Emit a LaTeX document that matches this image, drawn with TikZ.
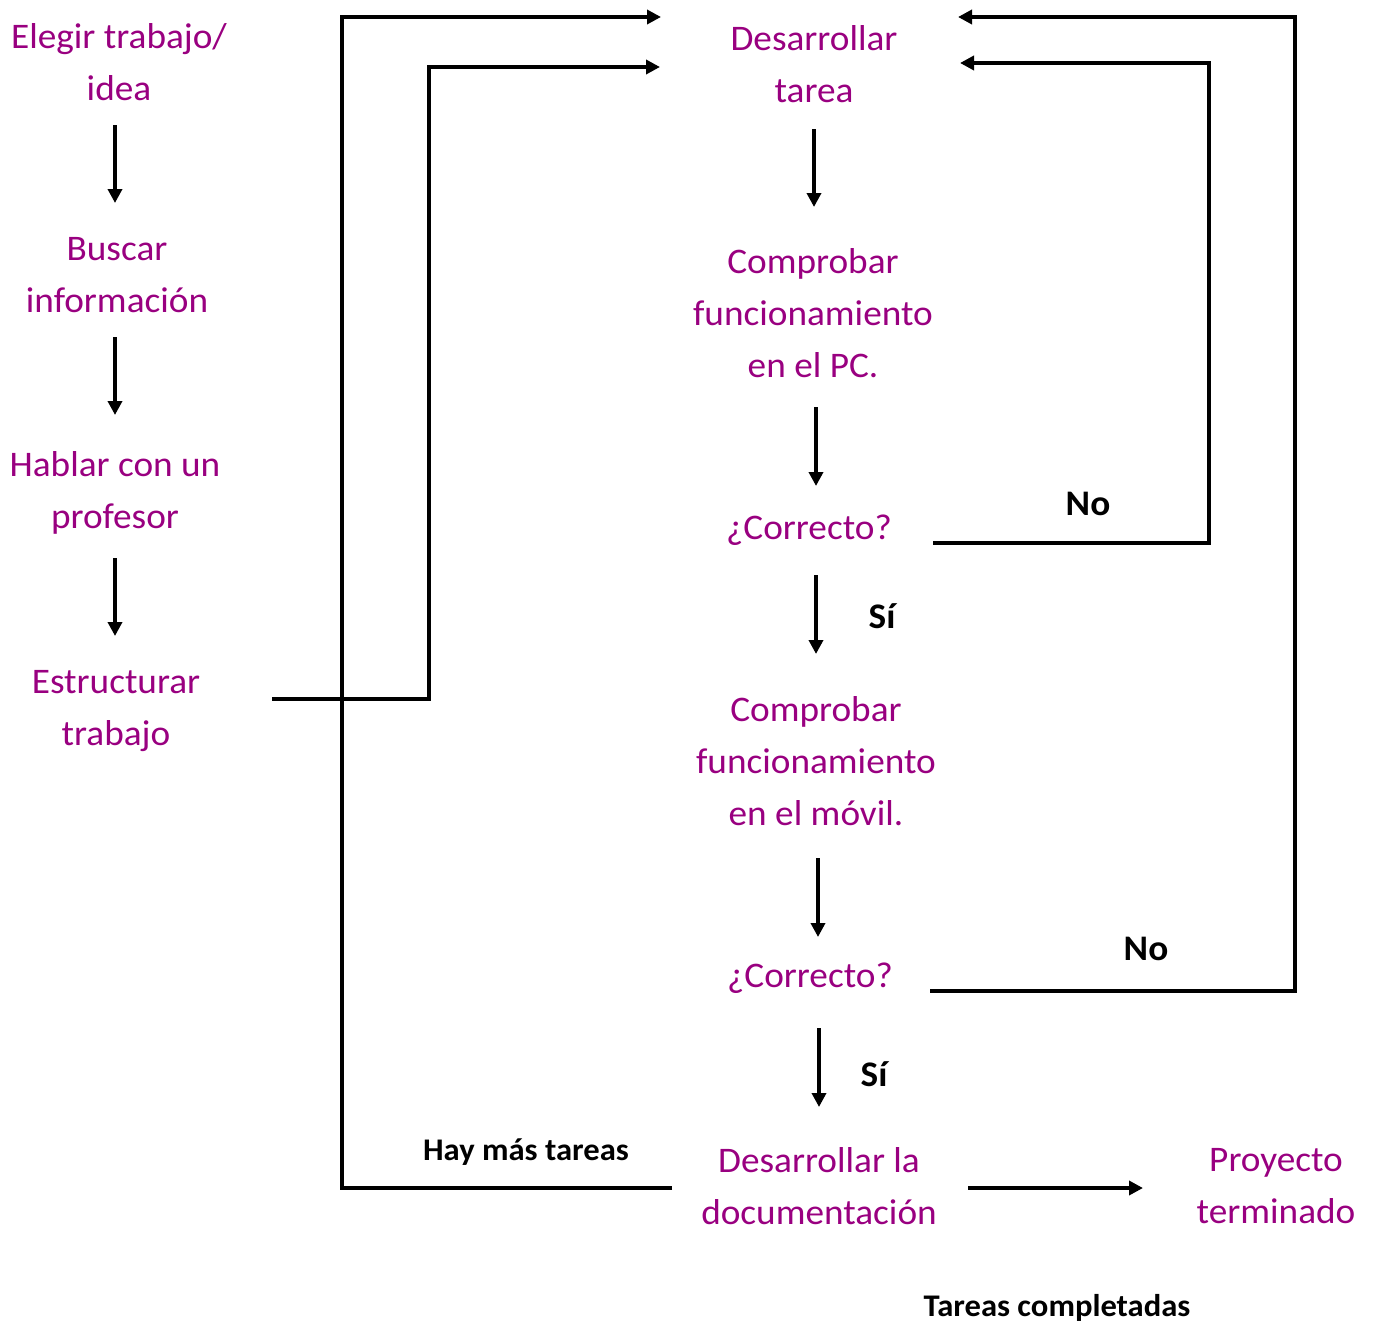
\documentclass[tikz,border=0pt]{standalone}
\usepackage{fontspec}
\setmainfont{Carlito}[FakeStretch=1.035]
\usetikzlibrary{arrows.meta}
\definecolor{txtpurple}{HTML}{990080}
\tikzset{
  box/.style={inner sep=0pt, align=center, text=txtpurple, font=\fontsize{36}{52}\selectfont},
  lbl/.style={inner sep=0pt, anchor=base, text=black, font=\fontsize{36}{43}\selectfont\bfseries},
  slbl/.style={inner sep=0pt, anchor=base, text=black, font=\fontsize{31.5}{38}\selectfont\bfseries},
  arr/.style={line width=4pt, -{Triangle[length=14pt,width=14pt]}},
  ln/.style={line width=4pt, line join=miter},
}
\begin{document}
\begin{tikzpicture}[x=1pt,y=-1pt]
\useasboundingbox (0,0) rectangle (1373,1322);
% left column
\node[box] (e1) at (119,62) {Elegir trabajo/\\idea};
\node[box] (e2) at (117,275) {Buscar\\información};
\node[box] (e3) at (115,493) {Hablar con un\\profesor};
\node[box] (e4) at (116,711) {Estructurar\\trabajo};
% center column
\node[box] (c1) at (814,64.5) {Desarrollar\\tarea};
\node[box] (c2) at (813,313) {Comprobar\\funcionamiento\\en el PC.};
\node[box, anchor=base] (c3) at (809,539) {¿Correcto?};
\node[box] (c4) at (816,761) {Comprobar\\funcionamiento\\en el móvil.};
\node[box, anchor=base] (c5) at (810,987) {¿Correcto?};
\node[box] (c6) at (819,1186) {Desarrollar la\\documentación};
\node[box] (c7) at (1276,1186) {Proyecto\\terminado};
% labels
\node[lbl] (no1) at (1088,515) {No};
\node[lbl] (no2) at (1146,960) {No};
\node[lbl] (si1) at (882,628) {Sí};
\node[lbl] (si2) at (874,1086) {Sí};
\node[slbl] (hay) at (526,1160) {Hay más tareas};
\node[slbl] (tc) at (1057,1316) {Tareas completadas};
% left column arrows
\draw[arr] (e1.center) ++(-4,63) -- ++(0,78);
\draw[arr] (e2.center) ++(-2,62) -- ++(0,78);
\draw[arr] (e3.center) ++(0,65) -- ++(0,78);
% center column arrows
\draw[arr] (c1.center) ++(0,64.5) -- ++(0,78);
\draw[arr] (c2.center) ++(3,94) -- ++(0,79);
\draw[arr] (c3.base) ++(7,36) -- ++(0,79);
\draw[arr] (c4.center) ++(2,97) -- ++(0,79);
\draw[arr] (c5.base) ++(9,41) -- ++(0,79);
\draw[arr] (c6.center) ++(149,2) -- ++(175,0);
% elbow connectors
\draw[arr, ln] ([shift={(156,-12)}]e4.center) -- ++(157,0) |- ([shift={(-154,2.5)}]c1.center);
\draw[arr, ln] ([shift={(-147,2)}]c6.center) -- ++(-330,0) |- ([shift={(-153,-47.5)}]c1.center);
\draw[arr, ln] ([shift={(124,4)}]c3.base) -- ++(276,0) |- ([shift={(146,-1.5)}]c1.center);
\draw[arr, ln] ([shift={(120,4)}]c5.base) -- ++(365,0) |- ([shift={(144,-47.5)}]c1.center);
\end{tikzpicture}
\end{document}
